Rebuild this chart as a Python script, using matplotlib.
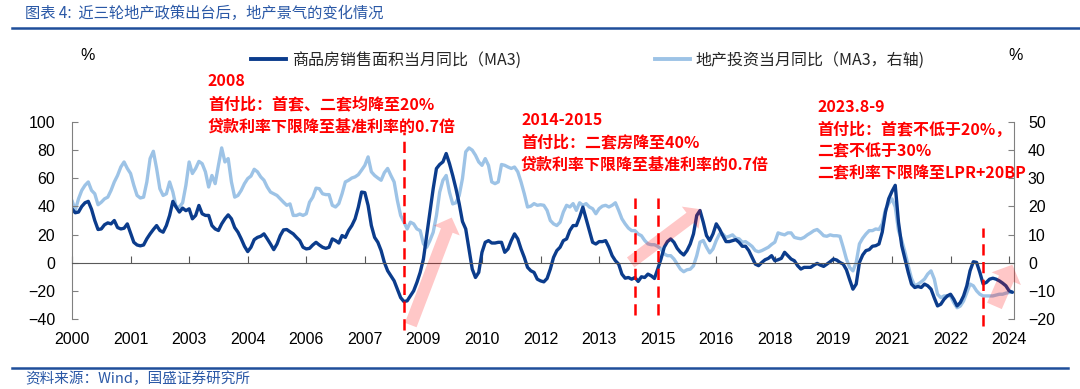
import matplotlib.pyplot as plt
from matplotlib.patches import FancyArrowPatch
from matplotlib.lines import Line2D

# 商品房销售面积当月同比(MA3)，月度，2000-01 起，左轴 %
sales = [
    38.3, 35.5, 36, 40, 42.6, 43.6, 38, 30, 23.6, 24,
    27, 28.3, 27.6, 30, 25, 24, 24.5, 27.6, 21, 14.5,
    12.6, 12, 12.6, 17, 20.5, 23.6, 26.4, 22.9, 21.7, 26.4,
    33.6, 43.6, 39.5, 36, 38.8, 37, 38.3, 31.2, 33.6, 40.7,
    34.8, 33.6, 33.6, 26.4, 24, 22.9, 27.6, 31.2, 34, 31.2,
    25, 21.7, 17, 11.7, 7.9, 11, 16.4, 18, 18.8, 20.5,
    17, 13.3, 9.3, 13.3, 19.3, 23.3, 23.6, 22, 20.5, 18,
    15.7, 11,
    9.8, 10.2, 12.6, 14.5, 12.6, 11, 10.2, 11, 16.9, 15.7,
    14, 19.3, 18, 22.9, 26.4, 31.2, 39.5, 50.2, 49.8, 40.7,
    26.4, 18, 14.5, 8.6, 0.2, -5.7, -9.3, -12.9, -18.8, -24.8,
    -27.6, -27.1, -23.6, -20, -14, -6.9, 2.6, 19.3, 36, 52.6,
    66.9, 69.8, 71.7, 77.6, 70.5, 62, 52.6, 41.9, 29.3, 24,
    9.8, -4.5, -10.5, -6.9, 7.4, 14.5, 15.7, 14, 14, 14.5,
    14.5, 7.4, 9.8, 15.7, 20.5, 16.9, 9.8, 3.8, -3.3, -5.7,
    -6.9, -11.7,
    -12.9, -13.6, -11.2, -4.5, 3.8, 8.6, 11, 15.7, 16.9, 22.9,
    26.4, 26.4, 32.4, 39.5, 31.2, 22.9, 14.5, 13.3, 15, 15,
    15.7, 11, 5, 1.4, -1, -8.1, -11, -10.5, -11.7, -10.5,
    -13.3, -10, -10.5, -8.1, -9.3, -11.2, -4.5, 2.6, 11, 15,
    16.9, 14.5, 10.2, 7.4, 5.5, 8.6, 13.3, 20.5, 33.6, 37.1,
    28.8, 19.3, 15.7, 20.5, 27.6, 24, 19.3, 15, 15, 15.7,
    16.4, 14.5, 11.7, 11.7, 8.6, 3.8, -1, -2.1, 0.2, 2.1,
    3.1, 5,
    1.4, 2.1, 3.1, 7.4, 5, 2.6, 1.4, -2.1, -4.5, -3.3,
    -3.3, -3.3, -1.7, -0.5, -1.7, -2.6, -1, 0.7, 2.6, 1.9,
    0.2, -1, -5, -12.1, -18.8, -15.2, 0.2, 5.5, 8.6, 9.3,
    11.7, 12.1, 13.3, 21.7, 36, 45.5, 50.7, 55, 28.8, 12.1,
    2.6, -6.9, -15.2, -17.6, -16.9, -17.6, -15.2, -16.4, -18.8, -25,
    -30.7, -29.5, -26, -23.6, -22.4, -26, -30.7, -28.3, -23.6, -16.4,
    -5.7, 0.7, 0.2, -6.9, -15, -14, -11.7, -11, -11.7, -12.9,
    -14.5, -16.4, -20, -21,
]

# 地产投资当月同比(MA3)，月度，右轴 %
invest = [
    22.1, 18.6, 22.7, 25.7, 27.5, 28.7, 25.7, 24.5, 20.6, 21.5,
    22.7, 23.3, 25.7, 28.7, 31, 34, 35.8, 33.5, 31.7, 27.5,
    23.9, 23, 23.3, 28.7, 37, 39.6, 33.5, 26.3, 23.9, 24.5,
    28.7, 25.1, 19.8, 19.8, 21.3, 27.5, 35.8, 31.7, 33.5, 36,
    35.2, 32.3, 26.9, 31, 28.1, 34.6, 40.8, 35.8, 37, 28.7,
    23.3, 23.9, 25.7, 28.1, 29.9, 30.8, 33.2, 32.3, 30.5, 29.3,
    26.9, 25.1, 24.5, 23.9, 22.7, 21.5, 20.4, 20.9, 16.8, 16.8,
    17.3, 16.8,
    17.4, 21.5, 23.3, 26.5, 26.3, 24.5, 24.2, 24.2, 20.4, 19.8,
    21, 24.5, 28.7, 29.3, 30.1, 30.5, 31.3, 32.9, 34.6, 37.6,
    32.3, 31, 30.1, 29.3, 32, 33.5, 31, 28.7, 22.1, 16.8,
    14.5, 12, 14.4, 13.8, 12, 11.4, 6.7, 5.5, 7.9, 10.8,
    16.8, 25.1, 29.3, 31, 25.1, 20.9, 21.3, 23.9, 29.9, 39.4,
    40.8, 40, 38.2, 35.8, 34.6, 37, 34.6, 28.7, 28.1, 28.7,
    34.9, 34.6, 34, 33.5, 34, 32.3, 28.7, 24.5, 19.8, 20.1,
    21, 20.4,
    20.6, 20.4, 18.6, 15, 13.8, 13.2, 14.4, 18, 20.4, 19.8,
    21, 18.6, 21.3, 20.4, 21, 19.8, 19.2, 17.4, 19.2, 20.1,
    20.4, 19.8, 20.4, 21.3, 18.6, 15.6, 13.8, 12.3, 11.4, 11.4,
    10.2, 9.6, 7.9, 6.7, 6.4, 6.4, 5.8, 4.9, 3.1, 2.5,
    2.5, 1.3, -0.5, -2.3, -3.2, -2.5, -2.3, -1.1, 2.5, 7.3,
    7.9, 5.5, 3.5, 4.9, 7.9, 10.2, 10.2, 9, 9.4, 9.9,
    8.7, 8.5, 7.3, 7.5, 6.7, 5.8, 4.3, 3.9, 4.3, 4.9,
    5.5, 6.5,
    7.3, 10.6, 10.2, 9.9, 10.6, 10.6, 9, 8.7, 8.5, 9,
    9.9, 10.6, 11.4, 11.8, 10.8, 9.6, 9.4, 9.9, 9.6, 9.6,
    9.4, 5.5, 1.3, -1.7, -2.9, 0.1, 6.7, 8.7, 10.2, 11.4,
    11.4, 12, 11.8, 13.8, 18.9, 21, 22.7, 19.8, 11.4, 7.9,
    3.7, -1.1, -5.6, -8.2, -7.6, -6.8, -5.8, -4, -2.9, -5.8,
    -11.2, -12.4, -11.8, -11.8, -11.8, -14.2, -16, -15.4, -13.6, -10.6,
    -7.6, -8.2, -10, -11.2, -11.8, -11.8, -11.8, -11.8, -11.5, -11.2,
    -11.2, -10.8, -10.6, -10.4,
]

xtick_labels = ['2000', '2001', '2003', '2004', '2006', '2007', '2009', '2010', '2012',
                '2013', '2015', '2016', '2018', '2019', '2021', '2022', '2024']

# 政策节点（月序号）
policy_months = [102, 173, 180, 280]

notes = [
    ['2008', '首付比：首套、二套均降至20%', '贷款利率下限降至基准利率的0.7倍'],
    ['2014-2015', '首付比：二套房降至40%', '贷款利率下限降至基准利率的0.7倍'],
    ['2023.8-9', '首付比：首套不低于20%，', '二套不低于30%', '二套利率下限降至LPR+20BP'],
]

CJK = ['Noto Sans CJK SC', 'DejaVu Sans']
plt.rcParams['font.family'] = ['Liberation Sans', 'Noto Sans CJK SC']

dark = '#0B3C8C'
light = '#9DC3E6'
blue = '#2A58A6'
grey = '#808080'

W, H = 1080, 389
def px(x, y):
    return x / W, 1 - y / H

fig = plt.figure(figsize=(10.8, 3.89), dpi=100)
ax = fig.add_axes([72 / W, 1 - 319 / H, (1014 - 72) / W, (319 - 122) / H])
ax2 = ax.twinx()
ax.set_zorder(ax2.get_zorder() + 1)
ax.patch.set_visible(False)

x = list(range(len(sales)))
ax.plot(x, sales, color=dark, lw=2.4, solid_capstyle='round')
ax2.plot(x, invest, color=light, lw=2.4, solid_capstyle='round')

ax.set_xlim(0, 289.5)
ax.set_ylim(-40, 100)
ax2.set_ylim(-20, 50)
ax.set_yticks(range(-40, 101, 20))
ax2.set_yticks(range(-20, 51, 10))
ax.set_xticks(range(0, 289, 18))
ax.set_xticklabels(xtick_labels)

for s in ['top', 'right']:
    ax.spines[s].set_visible(False)
ax.spines['bottom'].set_position(('data', 0))
ax.spines['bottom'].set_color('#595959')
ax.spines['left'].set_color(grey)
for s in ['top', 'left', 'bottom']:
    ax2.spines[s].set_visible(False)
ax2.spines['right'].set_color(grey)

ax.tick_params(axis='x', direction='in', length=5, pad=50, color='#595959', labelsize=11.5)
ax.tick_params(axis='y', direction='in', length=4, pad=12, color=grey, labelsize=11.5)
ax2.tick_params(axis='y', direction='in', length=4, pad=10, color=grey, labelsize=11.5)

# 政策节点虚线
spans = [(93, -48), (46, -37), (46, -37), (25, -45)]
for m, (top, bot) in zip(policy_months, spans):
    ax.vlines(m, bot, top, colors='red', lw=1.8, linestyles=(0, (4.5, 2.6)), clip_on=False, zorder=6)

# 箭头
arrows = [((104.1, -44.3), (116.7, 32.1), 0.9, 2.0, 1.0),
          ((171.7, 0.2), (193.4, 37.9), 0.9, 2.0, 1.0),
          ((283.5, -30.7), (289.0, -1.4), 1.15, 2.3, 1.1)]
for (p0, p1, tw, hw, hl) in arrows:
    ax.add_patch(FancyArrowPatch(p0, p1, arrowstyle=f'simple,tail_width={tw},head_width={hw},head_length={hl}',
                                 mutation_scale=10, color='red', alpha=0.22, lw=0,
                                 shrinkA=0, shrinkB=0, clip_on=False, zorder=7))

# 红色注释
note_pos = [(208, [80.5, 104, 126.5]), (521, [120, 142.5, 164.5]), (817, [106.5, 129.5, 151.5, 173.5])]
for lines, (nx, ys) in zip(notes, note_pos):
    for txt, yy in zip(lines, ys):
        fig.text(*px(nx, yy), txt, color='red', fontsize=11.5, fontweight='bold',
                 family=CJK, va='center', ha='left')

# 图例
h1 = Line2D([], [], color=dark, lw=2.8)
h2 = Line2D([], [], color=light, lw=2.8)
for h, lab, lx in [(h1, '商品房销售面积当月同比（MA3)', 251), (h2, '地产投资当月同比（MA3，右轴)', 655)]:
    leg = fig.legend([h], [lab], loc='center left', bbox_to_anchor=px(lx, 60), frameon=False,
                     borderaxespad=0, borderpad=0, handlelength=2.2, handletextpad=0.35,
                     prop={'family': CJK, 'size': 11.5})
    leg.get_texts()[0].set_color('#262626')

fig.text(*px(88, 56), '%', fontsize=11.5, ha='center', va='center')
fig.text(*px(1016, 56), '%', fontsize=11.5, ha='center', va='center')

# 标题与来源
fig.text(*px(25, 13), '图表 4:  近三轮地产政策出台后，地产景气的变化情况', color=blue, fontsize=11,
         style='italic', family=CJK, va='center')
fig.add_artist(Line2D([12 / W, 1.0], [1 - 28 / H] * 2, color='#1F4E9A', lw=1.8))
fig.add_artist(Line2D([12 / W, 1068 / W], [1 - 368 / H] * 2, color='#1F4E9A', lw=1.8))
fig.text(*px(25, 379), '资料来源：Wind，国盛证券研究所', color=blue, fontsize=10.5,
         style='italic', family=CJK, va='center')

fig.savefig('out.png', dpi=100)
